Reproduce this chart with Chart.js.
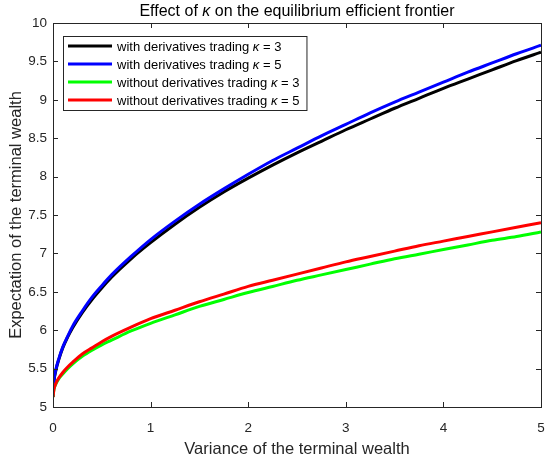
<!DOCTYPE html>
<html><head><meta charset="utf-8">
<script src="https://cdn.jsdelivr.net/npm/chart.js@4.4.0/dist/chart.umd.min.js"></script>
<style>html,body{margin:0;padding:0;background:#fff}#wrap{width:550px;height:460px}</style>
</head><body><div id="wrap"><canvas id="c" width="550" height="460"></canvas></div>
<script>
// ---- data ----
const variance = [0, 0.01, 0.03, 0.06, 0.1, 0.15, 0.2, 0.3, 0.4, 0.5, 0.6, 0.8, 1, 1.25, 1.5, 1.75, 2, 2.25, 2.5, 2.75, 3, 3.25, 3.5, 3.75, 4, 4.25, 4.5, 4.75, 5];
const withDerivK3 = [5.13, 5.33, 5.48, 5.62, 5.77, 5.91, 6.03, 6.23, 6.40, 6.55, 6.69, 6.93, 7.14, 7.38, 7.60, 7.80, 7.98, 8.15, 8.31, 8.46, 8.61, 8.75, 8.89, 9.02, 9.15, 9.27, 9.39, 9.51, 9.62];
const withDerivK5 = [5.13, 5.34, 5.49, 5.63, 5.78, 5.92, 6.05, 6.25, 6.43, 6.58, 6.72, 6.96, 7.18, 7.42, 7.64, 7.84, 8.03, 8.21, 8.37, 8.53, 8.68, 8.83, 8.97, 9.10, 9.23, 9.36, 9.48, 9.60, 9.71];
const withoutDerivK3 = [5.13, 5.23, 5.30, 5.37, 5.43, 5.50, 5.56, 5.66, 5.74, 5.81, 5.87, 5.99, 6.09, 6.20, 6.31, 6.40, 6.49, 6.57, 6.65, 6.72, 6.79, 6.86, 6.93, 6.99, 7.05, 7.11, 7.17, 7.22, 7.28];
const withoutDerivK5 = [5.13, 5.23, 5.31, 5.38, 5.45, 5.52, 5.58, 5.69, 5.77, 5.85, 5.92, 6.04, 6.15, 6.26, 6.37, 6.47, 6.57, 6.65, 6.73, 6.81, 6.89, 6.96, 7.03, 7.10, 7.16, 7.22, 7.28, 7.34, 7.40];
const seriesLabels = ["with derivatives trading κ = 3", "with derivatives trading κ = 5", "without derivatives trading κ = 3", "without derivatives trading κ = 5"];
const xTickValues = [0, 1, 2, 3, 4, 5];
const yTickValues = [5, 5.5, 6, 6.5, 7, 7.5, 8, 8.5, 9, 9.5, 10];
const titleText = "Effect of κ on the equilibrium efficient frontier";
const xLabel = "Variance of the terminal wealth";
const yLabel = "Expectation of the terminal wealth";

const colors = ["#000000", "#0000ff", "#00ff00", "#ff0000"];
const seriesValues = [withDerivK3, withDerivK5, withoutDerivK3, withoutDerivK5];
const FONT = '"Liberation Sans", Arial, Helvetica, sans-serif';
const AXIS = '#262626';

function pts(ys){ return variance.map((x,i)=>({x:x,y:ys[i]})); }

// draws text with every κ in italic; align: 'left' or 'center'
function drawRich(ctx, text, x, y, size, align){
  const parts = text.split('κ');
  const normal = size + 'px ' + FONT, ital = 'italic ' + size + 'px ' + FONT;
  let runs = [];
  parts.forEach((p,i)=>{ if(p) runs.push([p,normal]); if(i<parts.length-1) runs.push(['κ',ital]); });
  let w = 0; runs.forEach(r=>{ctx.font=r[1]; r.push(ctx.measureText(r[0]).width); w+=r[2];});
  let cx = align==='center' ? x - w/2 : x;
  ctx.textAlign='left';
  runs.forEach(r=>{ctx.font=r[1]; ctx.fillText(r[0], cx, y); cx+=r[2];});
  return w;
}

const decor = {
  id:'decor',
  afterDraw(chart){
    const ctx = chart.ctx, a = chart.chartArea;
    const xs = chart.scales.x, ys = chart.scales.y;
    ctx.save();
    // box
    ctx.strokeStyle = AXIS; ctx.lineWidth = 1;
    ctx.strokeRect(Math.round(a.left)+0.5, Math.round(a.top)+0.5, Math.round(a.right-a.left), Math.round(a.bottom-a.top));
    // inner ticks
    const tl = 5;
    ctx.beginPath();
    xTickValues.forEach(v=>{ const px=Math.round(xs.getPixelForValue(v))+0.5;
      ctx.moveTo(px,a.bottom); ctx.lineTo(px,a.bottom-tl); ctx.moveTo(px,a.top); ctx.lineTo(px,a.top+tl); });
    yTickValues.forEach(v=>{ const py=Math.round(ys.getPixelForValue(v))+0.5;
      ctx.moveTo(a.left,py); ctx.lineTo(a.left+tl,py); ctx.moveTo(a.right,py); ctx.lineTo(a.right-tl,py); });
    ctx.stroke();
    // title
    ctx.fillStyle = '#000'; ctx.textBaseline='middle';
    drawRich(ctx, titleText, (a.left+a.right)/2, 12, 16, 'center');
    // axis titles
    ctx.fillStyle = AXIS;
    ctx.font = '16.5px ' + FONT; ctx.textAlign='center';
    ctx.fillText(xLabel, (a.left+a.right)/2, 449);
    ctx.translate(16, (a.top+a.bottom)/2); ctx.rotate(-Math.PI/2);
    ctx.fillText(yLabel, 0, 0);
    ctx.restore();
    // legend
    ctx.save();
    const lx = 63, ly = 36, rowH = 18, fs = 13;
    let maxW = 0;
    ctx.textBaseline='middle';
    seriesLabels.forEach(s=>{ ctx.font = fs+'px '+FONT; maxW = Math.max(maxW, ctx.measureText(s).width); });
    const bw = 117 - lx + maxW + 7, bh = rowH*4 + 2;
    ctx.fillStyle='#fff'; ctx.fillRect(lx,ly,bw,bh);
    ctx.strokeStyle = AXIS; ctx.lineWidth=1; ctx.strokeRect(lx+0.5,ly+0.5,bw,bh);
    seriesLabels.forEach((s,i)=>{
      const y = ly + 10 + i*rowH;
      ctx.strokeStyle = colors[i]; ctx.lineWidth = 3;
      ctx.beginPath(); ctx.moveTo(68,y); ctx.lineTo(112,y); ctx.stroke();
      ctx.fillStyle = '#000';
      drawRich(ctx, s, 117, y+1, fs, 'left');
    });
    ctx.restore();
  }
};

const datasets = seriesValues.map((ys,i)=>({
  label: seriesLabels[i], data: pts(ys), borderColor: colors[i], backgroundColor: colors[i],
  borderWidth: 3, pointRadius: 0, fill: false, cubicInterpolationMode: 'monotone', order: 4-i
}));

new Chart(document.getElementById('c'), {
  type: 'line',
  data: { datasets },
  options: {
    responsive: false, animation: false, devicePixelRatio: 1,
    layout: { padding: { top: 23, right: 9, left: 0, bottom: 0 } },
    plugins: { legend: { display: false }, title: { display: false }, tooltip: { enabled: false } },
    scales: {
      x: { type: 'linear', min: 0, max: 5, offset: false,
        afterBuildTicks: s => { s.ticks = xTickValues.map(v=>({value:v})); },
        afterFit: s => { s.height = 53; s.paddingRight = 0; s.paddingLeft = 0; },
        grid: { display: false, drawTicks: false, tickLength: 0 }, border: { display: false },
        ticks: { color: AXIS, padding: 13, font: { family: FONT, size: 13.5 }, callback: v => String(v), maxRotation: 0 } },
      y: { type: 'linear', min: 5, max: 10,
        afterBuildTicks: s => { s.ticks = yTickValues.map(v=>({value:v})); },
        afterFit: s => { s.width = 53; s.paddingTop = 0; s.paddingBottom = 0; },
        grid: { display: false, drawTicks: false, tickLength: 0 }, border: { display: false },
        ticks: { color: AXIS, padding: 6, font: { family: FONT, size: 13.5 }, callback: v => String(v) } }
    }
  },
  plugins: [decor]
});
</script></body></html>
